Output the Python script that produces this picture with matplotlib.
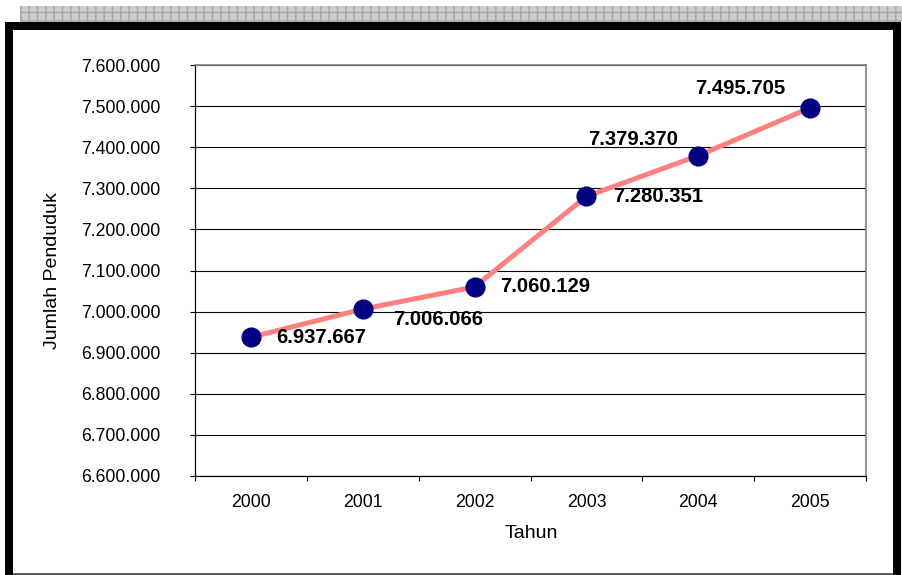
import matplotlib
matplotlib.use("Agg")
import matplotlib.pyplot as plt
from matplotlib.patches import Rectangle
from matplotlib.ticker import FuncFormatter, FixedLocator

plt.rcParams['font.family'] = ['Liberation Sans', 'DejaVu Sans']

# data
years = ['2000', '2001', '2002', '2003', '2004', '2005']
population = [6937667, 7006066, 7060129, 7280351, 7379370, 7495705]
# label offsets in pixels (dx, dy) and alignment, per point
label_offsets = [(25, 0, 'left'), (30, -10, 'left'), (26, 0, 'left'),
                 (27, 0, 'left'), (-20, 16, 'right'), (-25, 19, 'right')]

W, H = 902, 575
fig = plt.figure(figsize=(W / 100, H / 100), dpi=100)


def px(x0, y0, x1, y1):
    # image pixel box -> figure fraction (x, y, w, h)
    return (x0 / W, 1 - y1 / H, (x1 - x0) / W, (y1 - y0) / H)


def frame_rect(x0, y0, x1, y1, **kw):
    x, y, w, h = px(x0, y0, x1, y1)
    fig.patches.append(Rectangle((x, y), w, h, transform=fig.transFigure, **kw))


# hatched strip on top, then the black frame
frame_rect(20, 6, 902, 22, facecolor='#cccccc', edgecolor='#a4a4a4', hatch='++', lw=0)
frame_rect(5, 22, 901, 30, facecolor='black', lw=0)
frame_rect(5, 22, 13, 575, facecolor='black', lw=0)
frame_rect(893, 22, 901, 575, facecolor='black', lw=0)
frame_rect(13, 573, 893, 574.5, facecolor='#606060', lw=0)

ax = fig.add_axes(px(195, 65, 866, 476))

x = list(range(len(years)))
ax.plot(x, population, color='#ff8080', lw=3.6, zorder=3)
ax.plot(x, population, 'o', color='#000080', ms=13.5, zorder=4)

def dotted(v, pos=None):
    return f"{int(round(v)):,}".replace(',', '.')

for xi, yi, (dx, dy, ha) in zip(x, population, label_offsets):
    ax.annotate(dotted(yi), (xi, yi), xytext=(dx, dy), textcoords='offset pixels',
                ha=ha, va='center', fontsize=14.6, fontweight='bold', zorder=5)

ax.set_ylim(6600000, 7600000)
ax.set_yticks([6600000 + 100000 * i for i in range(11)])
ax.yaxis.set_major_formatter(FuncFormatter(dotted))
ax.grid(axis='y', color='black', lw=0.8)
ax.set_axisbelow(True)

ax.set_xlim(-0.5, len(years) - 0.5)
ax.xaxis.set_major_locator(FixedLocator([i - 0.5 for i in range(len(years) + 1)]))
ax.xaxis.set_minor_locator(FixedLocator(x))
ax.set_xticklabels([])
ax.set_xticklabels(years, minor=True)
ax.tick_params(axis='x', which='minor', length=0, pad=13, labelsize=12.7)
ax.tick_params(axis='x', which='major', length=3.6, width=0.8, direction='out')
ax.tick_params(axis='y', length=3.6, width=0.8, direction='out', pad=21.5, labelsize=12.7)

for side in ['top', 'right']:
    ax.spines[side].set_color('#808080')
    ax.spines[side].set_linewidth(1.2)
for side in ['left', 'bottom']:
    ax.spines[side].set_color('black')
    ax.spines[side].set_linewidth(0.9)

fig.text(53 / W, 1 - 271 / H, 'Jumlah Penduduk', rotation=90, ha='center', va='center', fontsize=14)
fig.text(531 / W, 1 - 534 / H, 'Tahun', ha='center', va='center', fontsize=14)

fig.savefig('out.png', dpi=100)
